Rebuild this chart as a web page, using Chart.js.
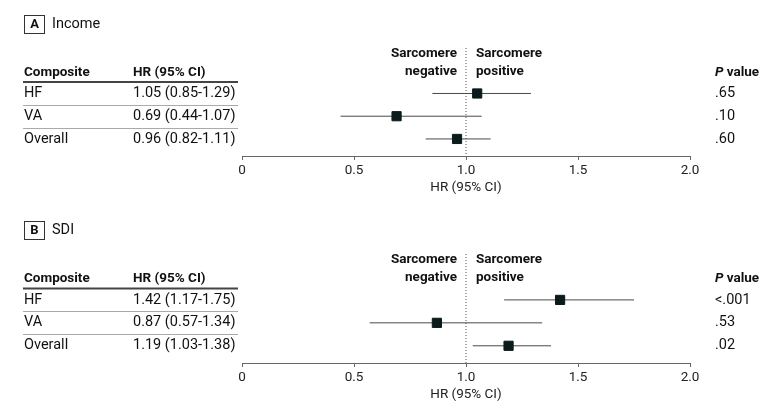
<!DOCTYPE html>
<html>
<head>
<meta charset="utf-8">
<script src="https://cdn.jsdelivr.net/npm/chart.js@4"></script>
<style>
  body { margin: 0; background: #fff; }
  canvas { display: block; }
</style>
</head>
<body>
<canvas id="panelA" width="780" height="206"></canvas>
<canvas id="panelB" width="780" height="207"></canvas>
<script>
// table rows
let composites = ['HF', 'VA', 'Overall'];

// A: income
let incomeHR = [1.05, 0.69, 0.96];
let incomeLo = [0.85, 0.44, 0.82];
let incomeHi = [1.29, 1.07, 1.11];
let incomeP = ['.65', '.10', '.60'];

// B: SDI
let sdiHR = [1.42, 0.87, 1.19];
let sdiLo = [1.17, 0.57, 1.03];
let sdiHi = [1.75, 1.34, 1.38];
let sdiP = ['<.001', '.53', '.02'];

let xTicks = [0, 0.5, 1.0, 1.5, 2.0];

const FONT = 'Roboto';
const INK = '#111';

function makePanel(canvasId, letter, title, hr, lo, hi, pvals) {
    // draws the table, headers and panel label around the plot
    let tablePlugin = {
        id: 'table' + letter,
        afterDraw(chart) {
            let ctx = chart.ctx;
            let y = v => chart.scales.y.getPixelForValue(v);
            ctx.save();

            // panel label
            ctx.strokeStyle = '#333';
            ctx.lineWidth = 1;
            ctx.strokeRect(24.5, 15.5, 20, 18);
            ctx.fillStyle = INK;
            ctx.textBaseline = 'middle';
            ctx.textAlign = 'center';
            ctx.font = 'bold 13px ' + FONT;
            ctx.fillText(letter, 34.5, 25);
            ctx.textAlign = 'left';
            ctx.font = '14.5px ' + FONT;
            ctx.fillText(title, 52, 24.5);

            // column headers
            ctx.font = 'bold 13.5px ' + FONT;
            ctx.fillText('Composite', 24, y(0.08));
            ctx.fillText('HR (95% CI)', 133, y(0.08));
            ctx.font = 'italic bold 13.5px ' + FONT;
            ctx.fillText('P', 715, y(0.08));
            let pw = ctx.measureText('P ').width;
            ctx.font = 'bold 13.5px ' + FONT;
            ctx.fillText('value', 715 + pw, y(0.08));

            // direction labels either side of HR = 1
            let x1 = chart.scales.x.getPixelForValue(1);
            ctx.textAlign = 'right';
            ctx.fillText('Sarcomere', x1 - 9, y(-0.75));
            ctx.fillText('negative', x1 - 9, y(0.05));
            ctx.textAlign = 'left';
            ctx.fillText('Sarcomere', x1 + 10, y(-0.75));
            ctx.fillText('positive', x1 + 10, y(0.05));

            // rules
            ctx.strokeStyle = '#444';
            ctx.lineWidth = 2;
            ctx.beginPath();
            ctx.moveTo(23, y(0.5));
            ctx.lineTo(238, y(0.5));
            ctx.stroke();
            ctx.strokeStyle = '#aaa';
            ctx.lineWidth = 1;
            [1.5, 2.5].forEach(v => {
                let yy = Math.round(y(v)) + 0.5;
                ctx.beginPath();
                ctx.moveTo(23, yy);
                ctx.lineTo(238, yy);
                ctx.stroke();
            });

            // rows
            ctx.font = '14.5px ' + FONT;
            ctx.fillStyle = INK;
            composites.forEach((c, i) => {
                let yy = y(i + 1);
                ctx.fillText(c, 24, yy);
                ctx.fillText(hr[i].toFixed(2) + ' (' + lo[i].toFixed(2) + '-' + hi[i].toFixed(2) + ')', 133, yy);
                ctx.fillText(pvals[i], 715, yy);
            });
            ctx.restore();
        }
    };

    let ciSets = composites.map((c, i) => ({
        label: c + ' CI',
        data: [{x: lo[i], y: i + 1}, {x: hi[i], y: i + 1}],
        showLine: true,
        borderColor: '#4a4a4a',
        borderWidth: 1,
        pointRadius: 0,
        order: 1
    }));

    return new Chart(document.getElementById(canvasId).getContext('2d'), {
        type: 'scatter',
        data: {
            datasets: [
                {
                    label: 'HR',
                    data: hr.map((v, i) => ({x: v, y: i + 1})),
                    pointStyle: 'rect',
                    pointRadius: 6.5,
                    backgroundColor: '#0b1a1a',
                    borderColor: '#0b1a1a',
                    borderWidth: 1,
                    order: 0
                },
                ...ciSets,
                {
                    label: 'null',
                    data: [{x: 1, y: -1}, {x: 1, y: 3.75}],
                    showLine: true,
                    borderColor: '#555',
                    borderWidth: 1,
                    borderDash: [1, 2],
                    pointRadius: 0,
                    order: 2
                }
            ]
        },
        options: {
            responsive: false,
            animation: false,
            events: [],
            layout: { padding: { left: 242, right: 90, top: 48, bottom: 0 } },
            plugins: { legend: { display: false }, tooltip: { enabled: false } },
            scales: {
                x: {
                    type: 'linear',
                    min: 0,
                    max: 2,
                    afterFit: s => { s.height = 50; },
                    afterBuildTicks: s => { s.ticks = xTicks.map(v => ({value: v})); },
                    ticks: {
                        callback: v => v === 0 ? '0' : v.toFixed(1),
                        color: '#222',
                        font: { family: FONT, size: 13.5 },
                        padding: 3,
                        maxRotation: 0
                    },
                    grid: { drawOnChartArea: false, drawTicks: true, tickLength: 4, color: '#666' },
                    border: { display: true, color: '#666', width: 1 },
                    title: {
                        display: true,
                        text: 'HR (95% CI)',
                        color: '#222',
                        font: { family: FONT, size: 13.5 },
                        padding: { top: 0, bottom: 10 }
                    }
                },
                y: {
                    type: 'linear',
                    reverse: true,
                    min: -1,
                    max: 3.75,
                    display: false
                }
            }
        },
        plugins: [tablePlugin]
    });
}

makePanel('panelA', 'A', 'Income', incomeHR, incomeLo, incomeHi, incomeP);
makePanel('panelB', 'B', 'SDI', sdiHR, sdiLo, sdiHi, sdiP);
</script>
</body>
</html>
